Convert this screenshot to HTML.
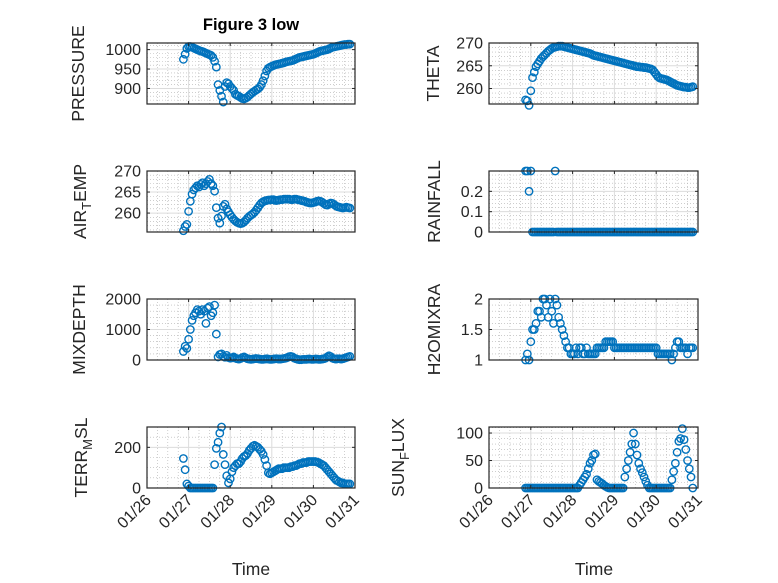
<!DOCTYPE html>
<html><head><meta charset="utf-8"><style>
html,body{margin:0;padding:0;background:#fff;}
svg{display:block;font-family:"Liberation Sans",sans-serif;}
</style></head><body>
<svg id="fig" width="778" height="583" viewBox="0 0 778 583">
<rect width="778" height="583" fill="#fff"/>
<text x="251" y="30" text-anchor="middle" font-size="16.5" font-weight="bold" fill="#000">Figure 3 low</text>
<text x="251" y="575" text-anchor="middle" font-size="17.5" fill="#262626">Time</text>
<text x="594" y="575" text-anchor="middle" font-size="17.5" fill="#262626">Time</text>
</svg>
<script>
const t0 = 0.875;
const dayTicks = [0,1,2,3,4,5];
const dayLabels = ["01/26","01/27","01/28","01/29","01/30","01/31"];
const pressure = [975,988,1003,1008,1008,1006,1004,1002,1000,998,
996,995,993,991,989,987,985,980,970,955,
910,895,880,865,905,915,912,905,900,895,
885,882,880,877,874,873,875,878,882,886,
890,893,896,899,903,910,920,932,945,952,
955,957,959,961,962,963,964,965,966,968,
969,970,971,972,974,976,978,980,981,982,
983,984,985,986,987,988,990,992,994,996,
997,998,999,1000,1002,1004,1006,1007,1008,1009,
1010,1011,1012,1013,1013,1014,1014];
const theta = [257.5,257.3,256.3,259.5,262.4,263.6,264.8,265.4,266.0,266.6,
267.0,267.4,267.8,268.2,268.5,268.8,269.0,269.1,269.2,269.3,
269.3,269.3,269.2,269.1,269.0,268.9,268.8,268.7,268.6,268.5,
268.4,268.3,268.2,268.1,268.0,267.9,267.8,267.7,267.5,267.3,
267.2,267.1,267.0,266.9,266.8,266.7,266.6,266.5,266.4,266.3,
266.2,266.1,266.0,265.9,265.8,265.7,265.6,265.5,265.4,265.3,
265.2,265.1,265.0,264.9,264.8,264.8,264.7,264.7,264.6,264.6,
264.5,264.4,264.3,264.1,263.6,263.1,262.6,262.3,262.2,262.1,
262.0,261.9,261.7,261.5,261.3,261.1,260.9,260.7,260.6,260.5,
260.4,260.3,260.3,260.2,260.2,260.3,260.4];
const airTemp = [255.8,256.8,257.3,260.4,262.8,264.5,265.5,266.0,266.5,266.2,
266.8,267.2,266.5,267.0,267.5,268.0,267.0,266.5,265.2,261.3,
258.8,257.6,259.3,261.6,262.1,261.0,260.3,259.6,259.0,258.5,
258.1,257.8,257.6,257.5,257.6,257.9,258.3,258.8,259.2,259.5,
259.8,260.2,260.7,261.3,261.9,262.4,262.7,262.9,263.0,263.1,
263.1,263.2,263.2,263.0,263.0,263.1,263.2,263.2,263.3,263.3,
263.3,263.3,263.2,263.2,263.3,263.3,263.2,263.1,263.0,262.9,
262.8,262.6,262.5,262.4,262.4,262.5,262.6,262.8,262.9,262.8,
262.6,262.3,262.0,261.9,262.2,262.4,262.3,262.0,261.7,261.5,
261.4,261.3,261.2,261.3,261.4,261.3,261.2];
const rainfall = [0.3,0.3,0.2,0.3,0,0,0,0,0,0, 0,0,0,0,0,0,0,0.3,0,0,
0,0,0,0,0,0,0,0,0,0, 0,0,0,0,0,0,0,0,0,0, 0,0,0,0,0,0,0,0,0,0,
0,0,0,0,0,0,0,0,0,0, 0,0,0,0,0,0,0,0,0,0, 0,0,0,0,0,0,0,0,0,0,
0,0,0,0,0,0,0,0,0,0, 0,0,0,0,0,0,0];
const mixDepth = [280,450,380,680,1000,1300,1450,1550,1650,1600,
1500,1650,1600,1200,1700,1750,1450,1550,1800,850,
100,180,200,120,90,150,80,60,70,100,
60,40,30,50,80,100,70,40,30,20,
30,40,50,40,30,20,20,30,40,30,
20,20,30,40,40,30,30,40,50,60,
80,110,120,100,60,40,20,10,10,20,
20,20,30,30,20,20,30,30,20,20,
30,40,60,100,140,110,60,40,30,40,
40,30,40,60,80,100,120];
const h2oMix = [1.0,1.1,1.0,1.3,1.5,1.5,1.6,1.8,1.8,1.7,
2.0,2.0,1.9,1.7,2.0,1.8,1.6,2.0,1.9,1.7,
1.6,1.5,1.4,1.3,1.2,1.2,1.1,1.1,1.1,1.2,
1.1,1.2,1.2,1.1,1.1,1.2,1.1,1.1,1.1,1.1,
1.1,1.2,1.2,1.2,1.2,1.2,1.3,1.3,1.3,1.3,
1.3,1.2,1.2,1.2,1.2,1.2,1.2,1.2,1.2,1.2,
1.2,1.2,1.2,1.2,1.2,1.2,1.2,1.2,1.2,1.2,
1.2,1.2,1.2,1.2,1.2,1.2,1.1,1.1,1.1,1.1,
1.1,1.1,1.1,1.1,1.0,1.1,1.2,1.3,1.3,1.2,
1.2,1.2,1.2,1.1,1.2,1.2,1.2];
const terrMsl = [145,90,20,10,0,0,0,0,0,0,
0,0,0,0,0,0,0,0,115,195,
225,270,300,165,115,60,25,45,80,100,
110,120,120,130,145,155,160,170,185,195,
205,210,205,200,190,180,165,140,110,75,
70,75,80,85,90,95,95,95,100,100,
100,100,105,105,110,110,115,120,120,125,
125,125,130,130,130,130,130,128,125,120,
115,110,100,90,80,70,60,50,40,35,
30,25,25,20,20,20,20];
const sunFlux = [0,0,0,0,0,0,0,0,0,0, 0,0,0,0,0,0,0,0,0,0,
0,0,0,0,0,0,0,0,0,0, 0,5,10,15,20,25,35,45,50,60,
62,15,12,10,8,5,3,1,0,0, 0,0,0,0,0,0,0,20,35,50,
65,80,100,80,60,45,35,28,20,12, 5,0,0,0,0,0,0,0,0,0,
0,0,0,0,15,30,45,65,85,90, 108,88,70,50,35,20,0];

const NS = "http://www.w3.org/2000/svg";
const svg = document.getElementById("fig");
function el(tag, attrs, parent){const e=document.createElementNS(NS,tag);for(const k in attrs)e.setAttribute(k,attrs[k]);(parent||svg).appendChild(e);return e;}

const panels = [
 {name:"pressure", data:pressure, col:0,row:0, ymin:860, ymax:1017, ticks:[900,950,1000], minor:10, label:[["PRESSURE",0]]},
 {name:"theta", data:theta, col:1,row:0, ymin:256.6, ymax:270, ticks:[260,265,270], minor:1, label:[["THETA",0]]},
 {name:"air-temp", data:airTemp, col:0,row:1, ymin:255.5, ymax:270, ticks:[260,265,270], minor:1, label:[["AIR",0],["T",1],["EMP",-1]]},
 {name:"rainfall", data:rainfall, col:1,row:1, ymin:0, ymax:0.3, ticks:[0,0.1,0.2], minor:0.02, label:[["RAINFALL",0]]},
 {name:"mixdepth", data:mixDepth, col:0,row:2, ymin:0, ymax:2000, ticks:[0,1000,2000], minor:200, label:[["MIXDEPTH",0]]},
 {name:"h2omixra", data:h2oMix, col:1,row:2, ymin:1, ymax:2, ticks:[1,1.5,2], minor:0.1, label:[["H2OMIXRA",0]]},
 {name:"terr-msl", data:terrMsl, col:0,row:3, ymin:0, ymax:300, ticks:[0,200], minor:50, label:[["TERR",0],["M",1],["SL",-1]]},
 {name:"sun-flux", data:sunFlux, col:1,row:3, ymin:0, ymax:111, ticks:[0,50,100], minor:10, label:[["SUN",0],["F",1],["LUX",-1]]}
];
const colX = [[147,355],[489,698]];
const rowTop = [43,171,299,427];
const H = 61;
const labelX = [[78,80,79,81],[433,434,434,398]];

panels.forEach(p=>{
  const [x0,x1] = colX[p.col];
  const y0 = rowTop[p.row], y1 = y0+H;
  const xs = d => x0 + (d-0)/(5-0)*(x1-x0);
  const ys = v => y1 - (v-p.ymin)/(p.ymax-p.ymin)*(y1-y0);
  const g = el("g",{});
  
  
  el("rect",{x:x0,y:y0,width:x1-x0,height:H,fill:"#fff"},g);
  for(let d=0; d<5; d+=0.25){ if(Math.abs(d-Math.round(d))<1e-6) continue;
    el("line",{x1:xs(d),x2:xs(d),y1:y0,y2:y1,stroke:"#b0b0b0","stroke-width":0.6,"stroke-dasharray":"1,2"},g);}
  for(let v=Math.ceil(p.ymin/p.minor)*p.minor; v<=p.ymax; v+=p.minor){
    if(p.ticks.some(t=>Math.abs(t-v)<p.minor*0.01)) continue;
    el("line",{x1:x0,x2:x1,y1:ys(v),y2:ys(v),stroke:"#b0b0b0","stroke-width":0.6,"stroke-dasharray":"1,2"},g);}
  dayTicks.forEach(d=>el("line",{x1:xs(d),x2:xs(d),y1:y0,y2:y1,stroke:"#dcdcdc","stroke-width":1},g));
  p.ticks.forEach(v=>el("line",{x1:x0,x2:x1,y1:ys(v),y2:ys(v),stroke:"#dcdcdc","stroke-width":1},g));
  const n = p.data.length;
  for(let i=0;i<n;i++){
    const c = el("circle",{cx:xs(t0+i/24).toFixed(2),cy:ys(p.data[i]).toFixed(2),r:3.7,fill:"none",stroke:"#0072BD","stroke-width":1.4},g);
    
    
  }
  el("rect",{x:x0,y:y0,width:x1-x0,height:H,fill:"none",stroke:"#262626","stroke-width":1.2},g);
  dayTicks.forEach(d=>{
    el("line",{x1:xs(d),x2:xs(d),y1:y1,y2:y1-3,stroke:"#262626"},g);
    el("line",{x1:xs(d),x2:xs(d),y1:y0,y2:y0+3,stroke:"#262626"},g);
  });
  p.ticks.forEach(v=>{
    el("line",{x1:x0,x2:x0+3,y1:ys(v),y2:ys(v),stroke:"#262626"},g);
    el("line",{x1:x1,x2:x1-3,y1:ys(v),y2:ys(v),stroke:"#262626"},g);
    const t = el("text",{x:x0-6,y:ys(v)+5.5,"text-anchor":"end","font-size":16,fill:"#262626"},g);
    t.textContent = String(v);
    
    
  });
  if(p.row===3){
    dayTicks.forEach((d,i)=>{
      const tx = xs(d)+5, ty = y1+13;
      const t = el("text",{x:tx,y:ty,"text-anchor":"end","font-size":16,fill:"#262626",transform:`rotate(-45 ${tx} ${ty})`},g);
      t.textContent = dayLabels[i];
      
      
    });
  }
  const lx = labelX[p.col][p.row]+6, ly = (y0+y1)/2;
  const yl = el("text",{x:lx,y:ly,"text-anchor":"middle","font-size":17.5,fill:"#262626",transform:`rotate(-90 ${lx} ${ly})`},g);
  
  
  p.label.forEach(([s,sh])=>{
    const ts = el("tspan",{},yl);
    if(sh===1){ts.setAttribute("dy","5");ts.setAttribute("font-size","13");}
    if(sh===-1){ts.setAttribute("dy","-5");}
    ts.textContent = s;
  });
});
</script>
</body></html>
